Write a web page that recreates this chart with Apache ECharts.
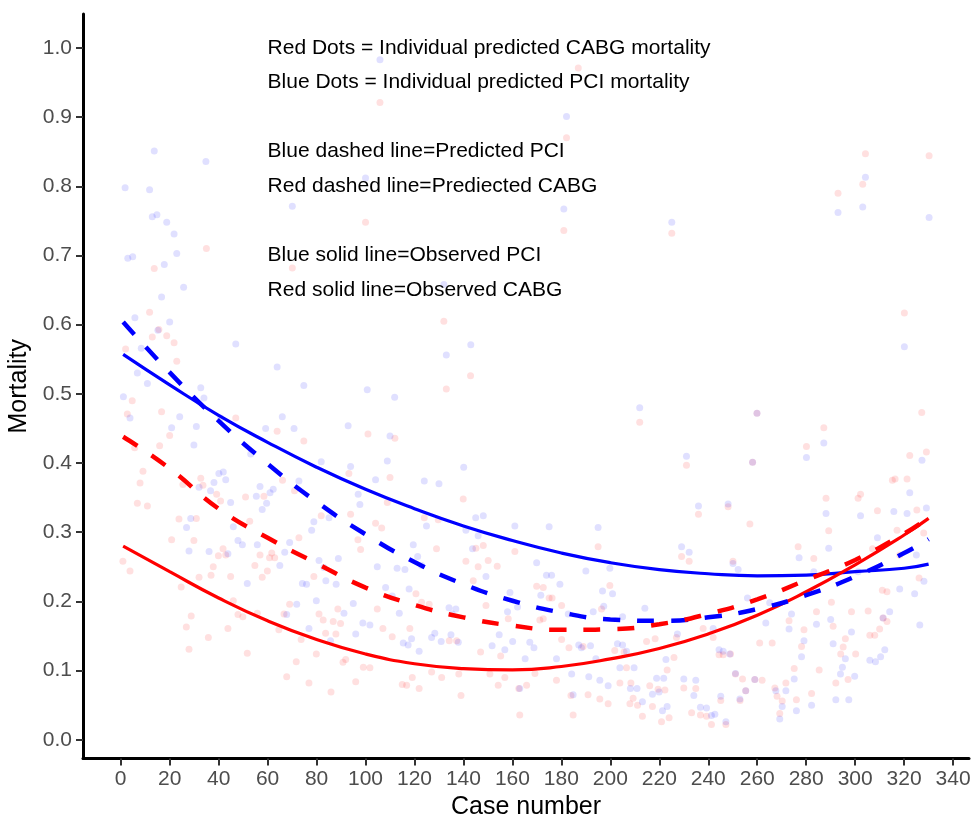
<!DOCTYPE html>
<html>
<head>
<meta charset="utf-8">
<title>Mortality by case number</title>
<script src="https://cdn.jsdelivr.net/npm/echarts@6/dist/echarts.min.js"></script>
<style>
  html, body { margin: 0; padding: 0; background: #fff; }
  #chart { width: 971px; height: 816px; }
</style>
</head>
<body>
<div id="chart"></div>
<script>
const FONT = '"Liberation Sans", Arial, sans-serif'

const X_TICKS = [0, 20, 40, 60, 80, 100, 120, 140, 160, 180, 200, 220, 240, 260, 280, 300, 320, 340]
const Y_TICKS = [0, 0.1, 0.2, 0.3, 0.4, 0.5, 0.6, 0.7, 0.8, 0.9, 1.0]

// fitted curves
const CURVE_X     = [1, 20, 40, 60, 80, 100, 120, 140, 160, 180, 200, 220, 240, 260, 280, 300, 320, 330]
const BLUE_SOLID  = [0.557, 0.513, 0.469, 0.430, 0.394, 0.362, 0.334, 0.309, 0.288, 0.270, 0.256, 0.246, 0.240, 0.237, 0.238, 0.243, 0.248, 0.254]
const BLUE_DASHED = [0.604, 0.531, 0.461, 0.399, 0.344, 0.297, 0.257, 0.225, 0.201, 0.184, 0.174, 0.172, 0.177, 0.189, 0.209, 0.236, 0.270, 0.290]
const RED_SOLID   = [0.280, 0.243, 0.205, 0.172, 0.145, 0.124, 0.110, 0.103, 0.101, 0.106, 0.117, 0.132, 0.153, 0.180, 0.214, 0.253, 0.296, 0.320]
const RED_DASHED  = [0.438, 0.392, 0.334, 0.292, 0.255, 0.220, 0.195, 0.177, 0.165, 0.159, 0.160, 0.167, 0.182, 0.203, 0.231, 0.260, 0.298, 0.321]

// individual predicted mortality: [case number, mortality]
const RED_DOTS = [
  [11.8,0.618],[15.6,0.593],[12.9,0.582],[18.8,0.584],[21.8,0.574],[2.0,0.565],[22.9,0.547],[4.7,0.490],[2.7,0.471],[16.7,0.474],
  [47.0,0.465],[63.9,0.446],[74.8,0.432],[101.0,0.442],[20.0,0.440],[15.9,0.425],[5.7,0.422],[9.1,0.388],[7.9,0.371],[32.7,0.378],
  [33.6,0.368],[25.4,0.369],[39.2,0.355],[40.8,0.345],[51.0,0.351],[58.5,0.352],[71.0,0.360],[66.1,0.375],[6.8,0.342],[10.9,0.338],
  [93.9,0.326],[81.9,0.324],[93.2,0.385],[23.8,0.319],
  [30.9,0.320],[52.7,0.316],[20.8,0.289],[29.9,0.288],[41.8,0.276],[39.9,0.266],[42.9,0.267],[56.9,0.267],[61.7,0.270],[62.9,0.263],
  [60.8,0.263],[72.8,0.292],[96.9,0.289],[98.0,0.275],[104.1,0.313],[106.6,0.306],[0.9,0.258],[3.8,0.244],[37.8,0.250],[36.9,0.238],
  [32.0,0.235],[44.9,0.236],[54.8,0.252],[59.9,0.244],[57.8,0.235],[78.9,0.236],[24.7,0.221],[46.0,0.201],[47.9,0.181],[49.9,0.178],
  [55.8,0.183],[66.7,0.182],[69.0,0.196],[28.8,0.179],[26.8,0.163],[43.8,0.161],[35.8,0.148],[27.9,0.131],[51.7,0.125],[64.6,0.159],
  [73.7,0.145],[81.0,0.182],[82.7,0.173],[86.8,0.171],[89.8,0.168],[83.7,0.154],[87.9,0.153],[88.7,0.189],[104.8,0.189],[107.1,0.161],
  [79.9,0.124],[71.7,0.113],[67.8,0.091],[76.9,0.082],[85.9,0.069],[90.8,0.112],[91.9,0.116],[96.0,0.084],[99.1,0.105],[101.8,0.104],
  [132.0,0.605],[142.9,0.526],[133.0,0.507],[112.0,0.436],[110.0,0.379],[108.9,0.343],[139.9,0.348],[124.0,0.321],[212.0,0.459],
  [129.7,0.318],[129.0,0.276],[145.1,0.277],[148.1,0.281],[161.0,0.272],[195.0,0.279],[141.0,0.258],[146.0,0.250],[150.1,0.259],[153.8,0.251],
  [144.0,0.230],[169.9,0.222],[172.6,0.220],[199.8,0.223],[120.6,0.211],[122.9,0.199],[126.0,0.196],[149.2,0.194],[175.0,0.205],[176.2,0.205],
  [180.1,0.194],[196.4,0.189],[110.9,0.149],[118.1,0.161],[171.2,0.173],[172.6,0.175],[158.3,0.175],[134.2,0.143],[137.2,0.143],[155.2,0.121],
  [147.0,0.127],[180.1,0.145],[183.1,0.133],[188.9,0.135],[214.8,0.142],[218.3,0.146],[205.6,0.127],[201.8,0.129],[127.0,0.098],[131.1,0.090],
  [119.1,0.090],[115.0,0.080],[116.8,0.079],[121.9,0.074],[138.1,0.095],[150.8,0.095],[156.9,0.090],[154.2,0.079],[169.2,0.096],[178.0,0.086],
  [165.8,0.079],[162.6,0.074],[139.0,0.064],[183.9,0.064],[190.9,0.065],[195.7,0.059],[199.1,0.052],[203.9,0.082],[208.4,0.082],[206.6,0.104],
  [209.3,0.060],[208.0,0.052],[211.1,0.050],[216.1,0.078],[219.5,0.073],[222.3,0.072],[217.2,0.048],[223.2,0.101],[226.0,0.119],[163.0,0.036],
  [184.8,0.036],[213.1,0.034],[220.9,0.026],[224.0,0.032],
  [320.1,0.617],[259.9,0.472],[258.1,0.401],[231.1,0.397],[280.1,0.424],[287.2,0.451],[327.2,0.473],[322.3,0.411],[329.1,0.416],[315.2,0.375],
  [316.3,0.377],[321.2,0.377],[302.2,0.355],[301.2,0.349],[288.1,0.349],[236.0,0.326],[248.1,0.337],[309.1,0.331],[325.2,0.332],
  [257.0,0.312],[289.2,0.302],[276.7,0.279],[283.1,0.262],[229.1,0.265],[232.2,0.258],[250.1,0.258],[307.1,0.276],[318.2,0.267],[317.1,0.303],
  [328.0,0.299],[326.1,0.234],[311.1,0.216],[313.0,0.214],[290.3,0.199],[284.2,0.185],[298.5,0.185],[305.3,0.186],[311.4,0.176],[313.0,0.171],
  [273.0,0.172],[279.1,0.159],[291.0,0.164],[227.0,0.148],[237.9,0.161],[242.0,0.148],[261.0,0.140],[266.1,0.140],[278.1,0.135],[296.0,0.146],
  [295.1,0.134],[294.1,0.124],[300.2,0.124],[306.0,0.151],[308.0,0.151],[310.0,0.160],[244.4,0.123],[249.1,0.124],[246.1,0.123],[251.1,0.095],
  [254.0,0.088],[262.0,0.086],[255.3,0.071],[259.0,0.087],[275.1,0.103],[285.3,0.101],[292.1,0.082],[297.1,0.087],[282.2,0.067],[276.0,0.058],
  [267.2,0.075],[268.1,0.063],[270.2,0.056],[271.7,0.082],[253.0,0.057],[245.1,0.057],[230.0,0.075],[234.9,0.074],[233.2,0.039],[236.8,0.036],
  [239.3,0.034],[241.3,0.022],[247.2,0.022],[269.2,0.038],
  [35.0,0.710],[13.7,0.681],[70.1,0.682],[186.9,0.971],[105.9,0.921],[182.1,0.870],[100.0,0.748],[181.0,0.736],[225.1,0.732],[304.2,0.847],
  [303.1,0.803],[293.0,0.790],[330.2,0.844]
]

const BLUE_DOTS = [
  [16.7,0.640],[5.8,0.610],[20.0,0.604],[15.2,0.592],[8.4,0.566],[47.0,0.572],[6.8,0.530],[10.9,0.515],[63.9,0.539],[32.7,0.509],
  [74.8,0.512],[1.1,0.496],[34.0,0.494],[100.7,0.506],[3.8,0.465],[24.1,0.467],[40.8,0.465],[66.0,0.467],[20.8,0.451],[30.9,0.453],
  [59.2,0.450],[70.8,0.450],[92.9,0.454],[29.9,0.426],[53.1,0.413],[81.9,0.402],[93.9,0.395],[40.1,0.385],[41.9,0.387],[42.9,0.376],
  [38.1,0.372],[32.0,0.365],[36.7,0.360],[56.9,0.366],[62.3,0.362],[61.0,0.357],[55.4,0.352],[59.6,0.342],[72.8,0.374],[104.1,0.376],
  [97.0,0.355],[97.7,0.340],[44.9,0.343],[57.8,0.333],[28.6,0.320],
  [26.9,0.307],[46.0,0.308],[47.9,0.288],[49.7,0.282],[55.8,0.282],[27.9,0.273],[36.1,0.272],[43.8,0.269],[69.0,0.285],[67.0,0.271],
  [78.9,0.315],[78.0,0.303],[85.1,0.321],[65.0,0.252],[81.0,0.259],[83.0,0.249],[88.9,0.262],[51.7,0.226],[74.2,0.226],[75.9,0.225],
  [83.8,0.230],[88.0,0.225],[104.8,0.250],[71.9,0.196],[79.9,0.201],[95.0,0.197],[91.2,0.183],[67.8,0.181],[98.9,0.169],[101.8,0.166],
  [76.9,0.161],[96.0,0.153],[85.7,0.143],
  [143.0,0.571],[133.0,0.556],[111.9,0.495],[110.0,0.439],[108.9,0.403],[140.1,0.394],[124.0,0.374],[130.0,0.370],[145.0,0.321],[148.1,0.324],
  [212.0,0.480],
  [124.9,0.309],[141.0,0.303],[146.0,0.295],[161.0,0.309],[175.0,0.308],[195.0,0.307],[119.5,0.282],[121.3,0.265],[143.7,0.276],[122.9,0.252],
  [112.9,0.248],[116.1,0.246],[169.9,0.256],[190.0,0.244],[199.8,0.248],[173.9,0.238],[176.0,0.238],[179.4,0.225],[108.2,0.220],[110.9,0.208],
  [117.8,0.218],[149.2,0.236],[159.0,0.213],[171.6,0.209],[196.8,0.215],[200.9,0.211],[113.8,0.183],[134.1,0.191],[136.9,0.189],[135.4,0.182],
  [162.1,0.192],[158.0,0.185],[182.8,0.182],[193.0,0.185],[197.3,0.193],[214.1,0.190],[205.0,0.178],[128.3,0.154],[127.0,0.148],[134.9,0.152],
  [115.4,0.140],[117.4,0.137],[118.8,0.146],[130.9,0.142],[137.9,0.141],[121.9,0.128],[151.7,0.136],[154.6,0.152],[160.1,0.142],[167.1,0.141],
  [168.8,0.133],[156.9,0.130],[187.1,0.137],[191.9,0.136],[188.2,0.133],[178.0,0.117],[165.2,0.117],[202.9,0.139],[205.0,0.137],[206.6,0.128],
  [194.1,0.117],[203.9,0.104],[209.7,0.104],[227.4,0.153],[222.7,0.116],[184.2,0.095],[191.2,0.091],[195.7,0.086],[199.1,0.078],[208.2,0.074],
  [210.9,0.074],[218.9,0.089],[221.8,0.089],[219.9,0.069],[217.2,0.066],[163.0,0.074],[184.8,0.065],[213.1,0.055],[223.2,0.048],[221.3,0.042],
  [320.1,0.568],[259.9,0.472],[258.1,0.401],[231.1,0.410],[280.1,0.408],[287.2,0.429],[327.3,0.404],[322.3,0.357],[236.0,0.338],[248.1,0.341],
  [329.1,0.335],[315.8,0.330],[321.2,0.327],[288.1,0.327],[302.2,0.324],
  [229.1,0.279],[232.2,0.271],[250.1,0.255],[252.2,0.246],[277.1,0.263],[289.2,0.277],[309.1,0.292],[283.1,0.243],[301.2,0.243],[325.0,0.267],
  [328.1,0.229],[318.2,0.218],[324.3,0.211],[256.0,0.205],[265.1,0.198],[274.0,0.182],[284.2,0.167],[290.0,0.174],[314.1,0.185],[311.4,0.176],
  [326.4,0.166],[263.5,0.169],[273.0,0.160],[242.0,0.161],[298.5,0.156],[279.1,0.143],[291.0,0.139],[306.0,0.115],[308.3,0.113],[310.4,0.120],
  [312.1,0.130],[296.0,0.117],[294.8,0.105],[294.0,0.095],[299.8,0.092],[278.1,0.120],[244.4,0.130],[246.1,0.128],[248.8,0.124],[251.1,0.096],
  [259.0,0.087],[255.3,0.071],[230.0,0.088],[234.9,0.086],[234.1,0.064],[236.8,0.047],[239.3,0.046],[242.7,0.037],[245.1,0.063],[252.9,0.059],
  [267.6,0.071],[270.2,0.048],[271.7,0.071],[275.1,0.088],[276.0,0.042],[282.2,0.050],[297.4,0.058],[292.1,0.058],[247.2,0.026],[241.3,0.035],
  [269.2,0.030],
  [1.8,0.798],[13.7,0.851],[11.8,0.795],[12.9,0.756],[14.8,0.759],[18.8,0.748],[21.8,0.731],[22.9,0.703],[2.9,0.696],[4.9,0.698],
  [17.8,0.687],[25.7,0.654],[34.8,0.836],[70.1,0.771],[105.9,0.983],[182.1,0.901],[100.0,0.812],[181.0,0.767],[132.0,0.658],[225.1,0.748],
  [304.2,0.813],[303.1,0.770],[293.0,0.762],[330.2,0.755]
]

// in-plot notes, placed in data coordinates
const NOTE_X = 60
const NOTE_Y = [1.0, 0.95, 0.85, 0.80, 0.70, 0.65]
const NOTE_TEXT = [
  'Red Dots = Individual predicted CABG mortality',
  'Blue Dots = Individual predicted PCI mortality',
  'Blue dashed line=Predicted PCI',
  'Red dashed line=Prediected CABG',
  'Blue solid line=Observed PCI',
  'Red solid line=Observed CABG',
]

const zip = (xs, ys) => xs.map((x, i) => [x, ys[i]])

function curve(name, ys, color, dashed) {
  return {
    name,
    type: 'line',
    data: zip(CURVE_X, ys),
    smooth: true,
    showSymbol: false,
    silent: true,
    z: 3,
    lineStyle: dashed
      ? { color, width: 4.5, type: [17, 17], cap: 'butt' }
      : { color, width: 3.2, type: 'solid' },
  }
}

function dots(name, data, color) {
  return {
    name,
    type: 'scatter',
    data,
    symbolSize: 7,
    silent: true,
    z: 2,
    itemStyle: { color, opacity: 1 },
  }
}

const chart = echarts.init(document.getElementById('chart'), null, { renderer: 'canvas' })

chart.setOption({
  animation: false,
  backgroundColor: '#ffffff',
  grid: { left: 83, right: 2, top: 14, bottom: 57.5, containLabel: false, outerBoundsMode: 'none' },
  xAxis: {
    type: 'value',
    min: -15.4,
    max: 346.5,
    name: 'Case number',
    nameLocation: 'middle',
    nameGap: 35.5,
    nameTextStyle: { color: '#000', fontSize: 25, fontFamily: FONT },
    splitLine: { show: false },
    axisLine: { show: true, onZero: false, lineStyle: { color: '#000', width: 3 } },
    axisTick: { show: true, length: 7, customValues: X_TICKS, lineStyle: { color: '#333', width: 2 } },
    axisLabel: {
      customValues: X_TICKS,
      margin: 10.5,
      color: '#4d4d4d',
      fontSize: 21,
      fontFamily: FONT,
    },
  },
  yAxis: {
    type: 'value',
    min: -0.027,
    max: 1.049,
    name: 'Mortality',
    nameLocation: 'middle',
    nameGap: 45,
    nameRotate: 90,
    nameTextStyle: { color: '#000', fontSize: 25, fontFamily: FONT },
    splitLine: { show: false },
    axisLine: { show: true, onZero: false, lineStyle: { color: '#000', width: 3 } },
    axisTick: { show: true, length: 7, customValues: Y_TICKS, lineStyle: { color: '#333', width: 2 } },
    axisLabel: {
      customValues: Y_TICKS,
      margin: 11,
      color: '#4d4d4d',
      fontSize: 21,
      fontFamily: FONT,
      formatter: v => v.toFixed(1),
    },
  },
  series: [
    dots('CABG dots', RED_DOTS, 'rgba(255,0,0,0.12)'),
    dots('PCI dots', BLUE_DOTS, 'rgba(0,0,255,0.12)'),
    curve('Observed PCI', BLUE_SOLID, '#0000ff', false),
    curve('Observed CABG', RED_SOLID, '#ff0000', false),
    curve('Predicted PCI', BLUE_DASHED, '#0000ff', true),
    curve('Predicted CABG', RED_DASHED, '#ff0000', true),
    {
      name: 'notes',
      type: 'scatter',
      silent: true,
      z: 5,
      symbolSize: 0,
      itemStyle: { color: '#000', opacity: 1 },
      data: NOTE_Y.map((y, i) => ({ value: [NOTE_X, y], name: NOTE_TEXT[i] })),
      label: {
        show: true,
        position: [0, 0],
        align: 'left',
        verticalAlign: 'middle',
        formatter: '{b}',
        color: '#000',
        opacity: 1,
        textBorderWidth: 0,
        fontSize: 21,
        fontFamily: FONT,
      },
    },
  ],
})
</script>
</body>
</html>
